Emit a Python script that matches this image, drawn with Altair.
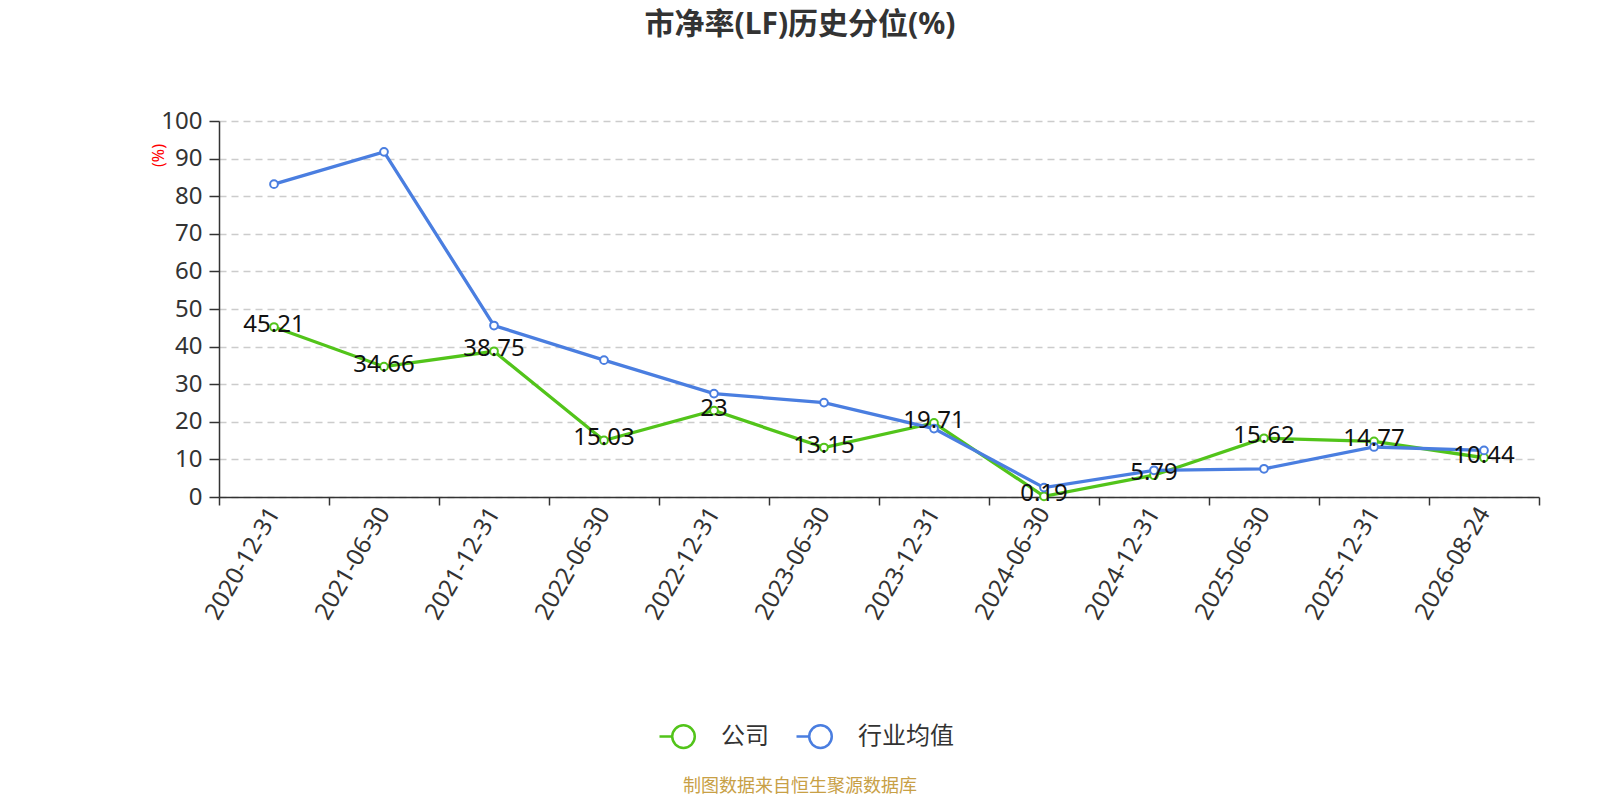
import altair as alt
import pandas as pd

dates = ["2020-12-31", "2021-06-30", "2021-12-31", "2022-06-30", "2022-12-31", "2023-06-30",
         "2023-12-31", "2024-06-30", "2024-12-31", "2025-06-30", "2025-12-31", "2026-08-24"]
company = [45.21, 34.66, 38.75, 15.03, 23, 13.15, 19.71, 0.19, 5.79, 15.62, 14.77, 10.44]
industry = [83.2, 91.8, 45.6, 36.4, 27.5, 25.1, 18.2, 2.5, 7.1, 7.5, 13.3, 12.4]
series_names = ["公司", "行业均值"]
series_colors = ["#52C41A", "#4A7EE0"]
y_ticks = [0, 10, 20, 30, 40, 50, 60, 70, 80, 90, 100]
title_text = "市净率(LF)历史分位(%)"
source_text = "制图数据来自恒生聚源数据库"

FONT = "'Noto Sans', 'Noto Sans CJK SC', sans-serif"

rows = []
for d, c, i in zip(dates, company, industry):
    rows.append({"date": d, "series": series_names[0], "value": c})
    rows.append({"date": d, "series": series_names[1], "value": i})
df = pd.DataFrame(rows)
df_company = pd.DataFrame({"date": dates, "value": company})

x_enc = alt.X("date:N", sort=dates, bandPosition=0.5,
              scale=alt.Scale(type="band", paddingInner=0, paddingOuter=0),
              axis=alt.Axis(title=None, tickBand="extent", labelAngle=-60, labelAlign="right",
                            labelBaseline="middle", labelFontSize=24, labelColor="#333333",
                            labelFont=FONT, tickSize=8, tickColor="#333333", tickWidth=1.5,
                            domainColor="#333333", domainWidth=1.5, labelPadding=4, grid=False,
                            labelOverlap=False))
y_enc = alt.Y("value:Q", scale=alt.Scale(domain=[0, 100], nice=False),
              axis=alt.Axis(title="(%)", titleColor="red", titleFontSize=16, titleFontWeight="normal",
                            titleFont=FONT, titleX=-61, titleY=34, titleAlign="center",
                            titleBaseline="middle", titleAngle=-90,
                            values=y_ticks, labelFontSize=24, labelColor="#333333", labelFont=FONT,
                            tickSize=10, tickColor="#333333", tickWidth=1.5, labelPadding=7,
                            domainColor="#333333", domainWidth=1.5, labelOverlap=False,
                            grid=True, gridDash=[7, 5], gridColor="#CCCCCC", gridWidth=1.5))

legend_symbol = "M-1,0L-0.47,0M0.47,0A0.47,0.47,0,1,1,-0.47,0A0.47,0.47,0,1,1,0.47,0Z"
color_scale = alt.Scale(domain=series_names, range=series_colors)
color_enc = alt.Color("series:N", scale=color_scale,
                      legend=alt.Legend(title=None, orient="none", direction="horizontal",
                                        legendX=439, legendY=590, symbolType=legend_symbol,
                                        symbolSize=2304, symbolStrokeWidth=2.5,
                                        symbolFillColor="white", labelFontSize=24,
                                        labelColor="#333333", labelFont=FONT, labelOffset=12,
                                        columnPadding=22, padding=0))

base = alt.Chart(df)
lines = base.mark_line(strokeWidth=3.3).encode(x=x_enc, y=y_enc, color=color_enc)
points = base.mark_point(filled=False, fill="white", size=60, strokeWidth=2, opacity=1).encode(
    x=x_enc, y=y_enc, color=alt.Color("series:N", scale=color_scale, legend=None))
labels = alt.Chart(df_company).mark_text(fontSize=24, color="#111111", baseline="middle", dy=-2, font=FONT).encode(
    x=x_enc, y=y_enc, text=alt.Text("value:Q"))
title = alt.Chart(pd.DataFrame({"t": [title_text]})).mark_text(
    fontSize=30, fontWeight="bold", color="#333333", font=FONT, align="center", baseline="middle").encode(
    text="t:N", x=alt.value(581), y=alt.value(-96))
source = alt.Chart(pd.DataFrame({"t": [source_text]})).mark_text(
    fontSize=18, color="#C8A046", font=FONT, align="center", baseline="middle").encode(
    text="t:N", x=alt.value(581), y=alt.value(666))

chart = alt.layer(lines, points, labels, title, source).properties(
    width=1320, height=376,
    autosize=alt.AutoSizeParams(type="none"),
    padding={"left": 211, "top": 113, "right": 53, "bottom": 300},
).configure_view(stroke=None)

chart.save("out.html", embed_options={"renderer": "svg", "actions": False})
